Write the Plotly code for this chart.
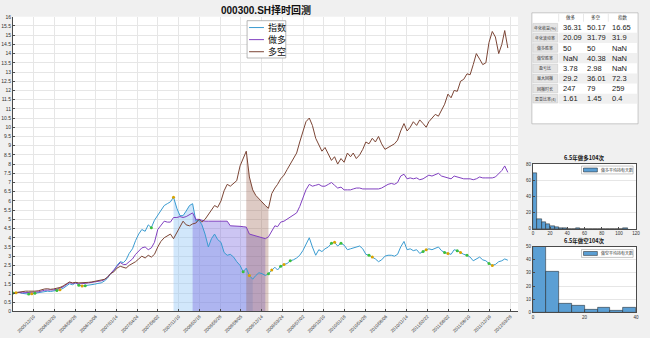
import plotly.graph_objects as go

W, H = 650, 338
def px(x): return x / W
def py(y): return 1 - y / H

MONTHS = ["2005-09","2005-10","2005-11","2005-12","2006-01","2006-02","2006-03","2006-04","2006-05","2006-06",
          "2006-07","2006-08","2006-09","2006-10","2006-11","2006-12","2007-01","2007-02","2007-03","2007-04",
          "2007-05","2007-06","2007-07","2007-08","2007-09","2007-10","2007-11","2007-12","2008-01","2008-02",
          "2008-03","2008-04","2008-05","2008-06","2008-07","2008-08","2008-09","2008-10","2008-11","2008-12",
          "2009-01","2009-02","2009-03","2009-04","2009-05","2009-06","2009-07","2009-08","2009-09","2009-10",
          "2009-11","2009-12","2010-01","2010-02","2010-03","2010-04","2010-05","2010-06","2010-07","2010-08",
          "2010-09","2010-10","2010-11","2010-12","2011-01","2011-02","2011-03","2011-04","2011-05","2011-06",
          "2011-07","2011-08","2011-09","2011-10","2011-11","2011-12","2012-01","2012-02","2012-03"]
DATES = [f"{m}-{d}" for m in MONTHS for d in ("01", "16")]

INDEX = [1.00,1.02, 1.03,0.98, 0.95,0.94, 0.96,0.99, 1.00,1.05, 1.09,1.10,
         1.08,1.10, 1.13,1.18, 1.25,1.38, 1.50,1.45, 1.55,1.42, 1.38,1.40,
         1.42,1.45, 1.48,1.52, 1.55,1.65, 1.80,2.05, 2.20,2.50, 2.70,2.65,
         2.80,3.15, 3.40,3.85, 4.20,4.45, 4.35,4.70, 4.55,4.95, 5.20,5.45,
         5.75,5.85, 5.95,6.20, 5.60,5.20, 5.20,5.45, 5.75,5.85, 4.90,4.95,
         4.70,4.20, 3.50,3.95, 4.20,3.90, 3.75,3.20, 3.05,3.10, 2.95,2.70,
         2.50,2.15, 2.35,1.95, 1.75,1.95, 2.10,2.05, 1.95,2.05, 2.25,2.40,
         2.25,2.45, 2.55,2.60, 2.75,2.80, 2.90,3.05, 3.30,3.65, 4.00,3.50,
         3.05,3.35, 3.25,3.40, 3.50,3.70, 3.75,3.55, 3.70,3.60, 3.35,3.40,
         3.45,3.50, 3.55,3.40, 3.10,3.05, 2.95,2.85, 2.70,2.80, 3.00,3.05,
         3.05,3.00, 3.10,3.50, 3.80,3.35, 3.40,3.30, 3.35,3.15, 3.25,3.35,
         3.40,3.35, 3.45,3.50, 3.30,3.20, 3.15,3.10, 3.35,3.30, 3.20,3.10,
         3.05,2.95, 2.75,2.85, 2.95,2.80, 2.75,2.60, 2.50,2.55, 2.70,2.75,
         2.85,2.78]

LONG = [1.00,1.02, 1.03,1.01, 1.01,1.01, 1.02,1.05, 1.06,1.11, 1.15,1.16,
        1.15,1.17, 1.20,1.25, 1.33,1.45, 1.57,1.52, 1.55,1.50, 1.50,1.52,
        1.55,1.57, 1.60,1.63, 1.66,1.72, 1.85,2.05, 2.25,2.45, 2.65,2.55,
        2.55,2.70, 2.85,3.10, 3.25,3.45, 3.50,3.35, 3.45,3.75, 4.45,4.70,
        4.90,4.85, 4.85,5.10, 5.10,5.15, 5.10,5.15, 5.25,5.35, 5.00,5.00,
        4.95,4.90, 4.90,4.90, 4.90,4.90, 4.90,4.90, 4.90,4.65, 4.65,4.65,
        4.62,4.60, 4.58,4.20, 4.15,4.10, 4.05,4.00, 3.95,4.05, 4.40,4.65,
        4.60,4.85, 4.90,5.00, 5.10,5.20, 5.35,5.70, 6.10,6.60, 6.90,6.80,
        6.85,6.90, 6.80,6.80, 6.90,7.00, 6.85,6.70, 6.75,6.60, 6.60,6.60,
        6.65,6.70, 6.70,6.65, 6.65,6.65, 6.65,6.65, 6.65,6.70, 6.80,6.90,
        6.95,6.90, 7.00,7.35, 7.45,7.20, 7.25,7.20, 7.25,7.15, 7.20,7.30,
        7.40,7.35, 7.45,7.50, 7.35,7.30, 7.25,7.20, 7.35,7.30, 7.25,7.20,
        7.20,7.20, 7.15,7.20, 7.30,7.25, 7.25,7.25, 7.25,7.30, 7.50,7.65,
        7.90,7.55]

LONGSHORT = [1.00,1.03, 1.05,1.08, 1.10,1.10, 1.08,1.10, 1.12,1.18, 1.22,1.23,
             1.20,1.22, 1.25,1.30, 1.38,1.50, 1.60,1.55, 1.58,1.55, 1.55,1.57,
             1.58,1.60, 1.63,1.65, 1.68,1.74, 1.85,2.05, 2.15,2.35, 2.45,2.40,
             2.35,2.50, 2.60,2.70, 2.85,3.00, 2.90,3.05, 2.95,3.10, 3.50,3.80,
             4.00,4.10, 4.20,3.95, 4.30,4.55, 4.90,4.70, 4.65,4.75, 4.80,5.00,
             4.85,5.00, 5.25,5.55, 5.75,5.65, 6.00,6.55, 6.90,6.80, 6.95,7.10,
             7.90,8.35, 8.70,7.30, 6.60,6.30, 6.10,5.90, 5.75,5.60, 6.40,6.70,
             6.90,7.20, 7.40,7.70, 8.00,8.30, 8.60,9.20, 9.80,10.30, 10.50,10.10,
             9.40,9.00, 8.70,8.90, 8.50,8.20, 8.40,8.00, 8.30,8.10, 8.60,8.40,
             8.60,8.30, 8.50,8.80, 9.20,9.10, 9.40,9.20, 9.50,9.10, 8.80,8.90,
             9.00,9.10, 9.30,9.80, 10.20,9.80, 10.00,10.30, 10.10,10.40, 10.20,10.00,
             10.30,10.50, 10.70,10.60, 10.90,11.25, 11.80,11.60, 12.00,11.95, 12.50,12.60,
             12.90,12.85, 13.40,14.00, 13.70,13.40, 13.50,14.60, 15.20,14.90, 14.00,14.50,
             15.25,14.30]

# max drawdown periods (peak date, trough date)
DD_INDEX = ("2007-10-16", "2008-11-01")
DD_LONG = ("2008-01-16", "2009-01-01")
DD_LONGSHORT = ("2008-10-01", "2009-01-16")

SIG_GREEN = ["2005-09-01","2005-11-16","2005-12-16","2006-04-01","2006-07-16","2006-08-16","2007-07-01",
             "2008-09-16","2009-01-16","2009-03-16","2009-05-01","2009-11-16","2010-01-01","2010-05-16",
             "2011-02-01","2011-05-16","2011-07-16","2011-09-01","2011-12-16"]
SIG_ORANGE = ["2005-09-16","2005-12-01","2006-04-16","2006-08-01","2007-10-16","2008-10-16","2009-02-01",
              "2009-04-01","2009-12-01","2010-06-01","2011-02-16","2011-06-01","2011-08-01","2012-01-01"]

TICK_DATES = ["2005-09-01","2005-12-10","2006-03-20","2006-06-28","2006-10-06","2007-01-14","2007-04-24",
              "2007-08-02","2007-11-10","2008-02-18","2008-05-28","2008-09-05","2008-12-14","2009-03-24",
              "2009-07-02","2009-10-10","2010-01-18","2010-04-28","2010-08-06","2010-11-14","2011-02-22",
              "2011-06-02","2011-09-10","2011-12-19","2012-03-28"]

SERIES_NAMES = ["指数", "做多", "多空"]
COLORS = ["#3a9bd0", "#8040c0", "#7b4535"]
FILLS = ["rgba(140,195,245,0.40)", "rgba(110,90,220,0.35)", "rgba(150,90,70,0.32)"]

TABLE_COLS = ["做多", "多空", "指数"]
TABLE_ROWS = ["年化收益(%)", "年化波动率", "做多胜率", "做空胜率", "盈亏比", "最大回撤", "回撤时长", "夏普比率(4)"]
TABLE_VALS = [["36.31", "50.17", "16.65"],
              ["20.09", "31.79", "31.9"],
              ["50", "50", "NaN"],
              ["NaN", "40.38", "NaN"],
              ["3.78", "2.98", "NaN"],
              ["29.2", "36.01", "72.3"],
              ["247", "79", "259"],
              ["1.61", "1.45", "0.4"]]

HIST1_BINS = [0,5,10,15,20,25,30,35,40,45,50,55,60,65,70,75,80,85,90,95,100,105]
HIST1_COUNTS = [69,12,8,6,3,2,1,1,0,0,1,0,0,0,0,0,0,0,0,0,0,1]
HIST2_BINS = [0,5,10,15,20,25,30,35]
HIST2_COUNTS = [50,31,7,5,2,4,1,4]

fig = go.Figure()
series = [INDEX, LONG, LONGSHORT]
for vals, (p, t), fc in zip(series, [DD_INDEX, DD_LONG, DD_LONGSHORT], FILLS):
    i0, i1 = DATES.index(p), DATES.index(t)
    fig.add_trace(go.Scatter(x=DATES[i0:i1 + 1], y=vals[i0:i1 + 1], mode="lines", fill="tozeroy",
                             fillcolor=fc, line=dict(width=0), showlegend=False, hoverinfo="skip"))
for vals, name, c in zip(series, SERIES_NAMES, COLORS):
    fig.add_trace(go.Scatter(x=DATES, y=vals, mode="lines", name=name, line=dict(color=c, width=1),
                             showlegend=False))
for sig, c in [(SIG_GREEN, "#3cbf3c"), (SIG_ORANGE, "#d9a400")]:
    fig.add_trace(go.Scatter(x=sig, y=[INDEX[DATES.index(d)] for d in sig], mode="markers",
                             marker=dict(color=c, size=3), showlegend=False))

BAR_COLOR = "#5b9fd4"
fig.add_trace(go.Bar(x=[b + 2.5 for b in HIST1_BINS], y=HIST1_COUNTS, width=5, xaxis="x2", yaxis="y2",
                     marker=dict(color=BAR_COLOR, line=dict(color="#1a1a1a", width=0.5)), showlegend=False))
fig.add_trace(go.Bar(x=[b + 2.5 for b in HIST2_BINS], y=HIST2_COUNTS, width=5, xaxis="x3", yaxis="y3",
                     marker=dict(color=BAR_COLOR, line=dict(color="#1a1a1a", width=0.5)), showlegend=False))

FONT = "Liberation Sans, Noto Sans CJK SC, sans-serif"
CJK = "Noto Sans CJK SC, sans-serif"
shapes, ann = [], []

def text(t, x, y, size, family=CJK, color="#222", xanchor="center"):
    ann.append(dict(text=t, x=px(x), y=py(y), xref="paper", yref="paper", xanchor=xanchor, yanchor="middle",
                    showarrow=False, font=dict(size=size, family=family, color=color)))

def rect(x0, y0, x1, y1, fill, line_color=None, lw=0.5, layer="above"):
    shapes.append(dict(type="rect", xref="paper", yref="paper", x0=px(x0), x1=px(x1), y0=py(y1), y1=py(y0),
                       fillcolor=fill, layer=layer,
                       line=dict(color=line_color or "rgba(0,0,0,0)", width=lw if line_color else 0)))

# title
text("<b>000300.SH择时回测</b>", 267, 7, 10, FONT, "#111")

# main legend (manual)
rect(248, 18, 287, 56, "white", "#9a9a9a", 0.7)
for k, (name, c) in enumerate(zip(SERIES_NAMES, COLORS)):
    yy = 25 + 12.3 * k
    shapes.append(dict(type="line", xref="paper", yref="paper", x0=px(250), x1=px(265), y0=py(yy), y1=py(yy),
                       line=dict(color=c, width=1)))
    text(name, 267, yy, 9, CJK, "#111", "left")

# table panel
rect(535, 10, 642, 123, "white", "#a8a8a8", 0.6, "below")
col_edges = [535, 562, 587, 612, 641]
for j, h in enumerate(TABLE_COLS):
    text(h, (col_edges[j + 1] + col_edges[j + 2]) / 2, 15, 4.5, CJK, "#333")
for j in range(1, 4):
    shapes.append(dict(type="line", xref="paper", yref="paper", x0=px(col_edges[j]), x1=px(col_edges[j]),
                       y0=py(19), y1=py(11), line=dict(color="#d0d0d0", width=0.5)))
rh = 10.33
for i, (lab, vals) in enumerate(zip(TABLE_ROWS, TABLE_VALS)):
    top = 20 + rh * i
    if i % 2 == 1:
        rect(562, top, 641, top + rh, "#f0f0f0", layer="below")
    rect(536, top + 0.8, 561, top + rh - 0.8, "#e4e4e4", "#c4c4c4", 0.5)
    text(lab, 548.5, top + rh / 2, 4, CJK, "#333")
    for j, v in enumerate(vals):
        text(v, col_edges[j + 1] + 2, top + rh / 2, 7.5, FONT, "#222", "left")

# histogram titles and legends
for ytitle, txt, ytop, lab in [(158, "6.5年做多104次", 166, "做多平均持有天数"),
                               (242, "6.5年做空104次", 251, "做空平均持有天数")]:
    text(f"<b>{txt}</b>", 588, ytitle, 5.5, CJK, "#111")
    rect(585, ytop, 637, ytop + 8, "white", "#8c8c8c", 0.5)
    rect(587, ytop + 2, 601, ytop + 6, BAR_COLOR, "#1a1a1a", 0.5)
    text(lab, 603, ytop + 4, 4, CJK, "#333", "left")

small = dict(size=4.5, family=FONT, color="#333")
axis_common = dict(showline=True, linecolor="#4a4a4a", linewidth=0.7, ticks="inside", ticklen=2.5,
                   tickcolor="#4a4a4a", zeroline=False, tickfont=dict(size=5, family=FONT, color="#333"))
fig.update_layout(
    width=W, height=H, margin=dict(l=0, r=0, t=0, b=0),
    paper_bgcolor="#f0f0f0", plot_bgcolor="white", showlegend=False, bargap=0,
    xaxis=dict(domain=[px(12), px(521)], anchor="y", type="date", range=["2005-09-01", "2012-05-04"],
               tickvals=TICK_DATES, ticktext=[d.replace("-", "/") for d in TICK_DATES], tickangle=-45,
               showgrid=True, gridcolor="#e6e6e6", gridwidth=0.6, **{**axis_common, "tickfont": small}),
    yaxis=dict(domain=[py(314), py(14)], anchor="x", range=[0, 16], dtick=0.5, showgrid=True,
               gridcolor="#e6e6e6", gridwidth=0.6, **axis_common),
    xaxis2=dict(domain=[px(536), px(640)], anchor="y2", range=[0, 120], dtick=20, showgrid=False,
                mirror=True, **{**axis_common, "tickfont": small}),
    yaxis2=dict(domain=[py(230), py(164)], anchor="x2", range=[0, 80], dtick=20, showgrid=True,
                gridcolor="#e6e6e6", mirror=True, **{**axis_common, "tickfont": small}),
    xaxis3=dict(domain=[px(536), px(640)], anchor="y3", range=[0, 40], dtick=20, showgrid=False,
                mirror=True, **{**axis_common, "tickfont": small}),
    yaxis3=dict(domain=[py(315), py(248)], anchor="x3", range=[0, 50], dtick=10, showgrid=True,
                gridcolor="#e6e6e6", mirror=True, **{**axis_common, "tickfont": small}),
    shapes=shapes, annotations=ann,
)
fig.write_html("out.html")
